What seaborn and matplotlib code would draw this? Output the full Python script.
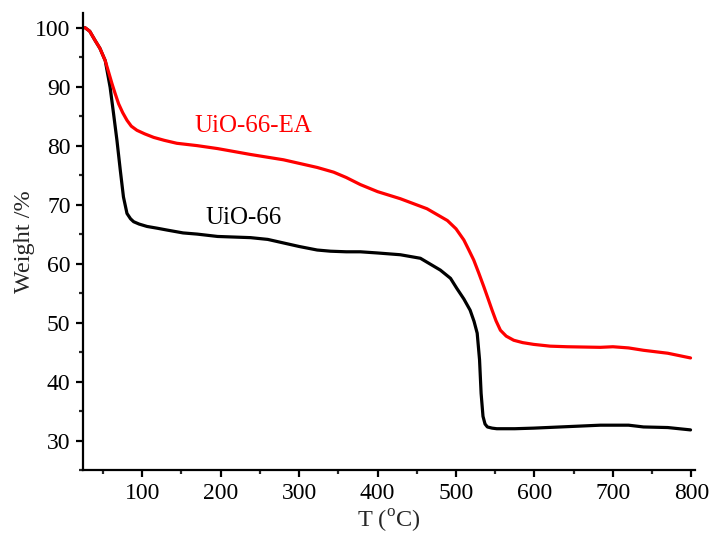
import numpy as np
import pandas as pd
import matplotlib
matplotlib.use("Agg")
import matplotlib.pyplot as plt
import seaborn as sns
from matplotlib.ticker import MultipleLocator

# UiO-66 (black)
t_uio = [27, 33, 40, 46, 52.8, 59, 63.4, 67.7, 72, 76, 80.5, 85, 89, 96, 106, 119, 131, 152, 170, 196, 238, 260,
         280, 300, 323, 340, 360, 378, 400, 429, 454.6, 480, 493, 501, 510, 518, 523, 527, 530, 532, 534.4,
         537, 540, 546, 552, 575, 599, 633, 684, 700, 720, 739, 770, 799]
w_uio = [100, 99.4, 97.8, 96.5, 94.4, 89.9, 85.4, 80.9, 75.8, 71.3, 68.5, 67.6, 67.1, 66.7, 66.3, 66.0, 65.7, 65.2,
         65.0, 64.6, 64.4, 64.1, 63.5, 62.9, 62.3, 62.1, 62.0, 62.0, 61.8, 61.5, 60.9, 58.9, 57.5, 55.8, 54.0,
         52.1, 50.2, 48.2, 43.7, 38.0, 34.1, 32.8, 32.3, 32.1, 32.0, 32.0, 32.1, 32.3, 32.6, 32.6, 32.6, 32.3,
         32.2, 31.8]

# UiO-66-EA (red)
t_ea = [27, 33, 40, 46, 52.8, 57, 61.4, 65.5, 69.8, 75, 80.5, 86, 93.2, 103, 114.5, 128, 144, 170, 196, 238,
        280, 323, 344, 360, 378, 400, 429, 463, 489, 500, 510, 516, 522.6, 529, 535.4, 541, 546, 551, 556.6,
        564, 573.6, 585, 599, 620, 641.6, 684, 700, 720, 739, 770, 799]
w_ea = [100, 99.4, 97.8, 96.5, 94.4, 92.5, 90.5, 88.8, 87.1, 85.6, 84.3, 83.3, 82.6, 82.0, 81.4, 80.9, 80.4, 80.0,
        79.5, 78.5, 77.6, 76.3, 75.5, 74.6, 73.4, 72.2, 71.0, 69.3, 67.3, 65.9, 64.0, 62.4, 60.6, 58.4, 56.1,
        54.0, 52.1, 50.3, 48.7, 47.7, 47.0, 46.6, 46.3, 46.0, 45.9, 45.8, 45.9, 45.7, 45.3, 44.8, 44.0]

names = ["UiO-66", "UiO-66-EA"]
colors = {"UiO-66": "#000000", "UiO-66-EA": "#ff0000"}

df = pd.concat([
    pd.DataFrame({"T": t_uio, "W": w_uio, "sample": names[0]}),
    pd.DataFrame({"T": t_ea, "W": w_ea, "sample": names[1]}),
], ignore_index=True)

sns.set_style("ticks")
plt.rcParams["font.family"] = ["Liberation Serif", "DejaVu Serif"]
plt.rcParams["mathtext.fontset"] = "custom"
plt.rcParams["mathtext.rm"] = "Liberation Serif"

fig = plt.figure(figsize=(7.16, 5.39), dpi=100)
ax = fig.add_axes([0.116, 0.128, 0.855, 0.848])

sns.lineplot(data=df, x="T", y="W", hue="sample", palette=colors, sort=False,
             estimator=None, legend=False, linewidth=2.3, ax=ax)
for ln in ax.lines:
    ln.set_solid_joinstyle("round")
    ln.set_solid_capstyle("round")

ax.set_xlim(24.5, 805)
ax.set_ylim(25, 102.5)
ax.xaxis.set_major_locator(MultipleLocator(100))
ax.xaxis.set_minor_locator(MultipleLocator(50))
ax.yaxis.set_major_locator(MultipleLocator(10))
ax.yaxis.set_minor_locator(MultipleLocator(5))

for s in ["top", "right"]:
    ax.spines[s].set_visible(False)
for s in ["left", "bottom"]:
    ax.spines[s].set_linewidth(1.6)
    ax.spines[s].set_color("black")

ax.tick_params(which="major", direction="out", length=5, width=1.6, labelsize=17, colors="black", pad=4)
ax.tick_params(which="minor", direction="out", length=3, width=1.6)

ax.set_xlabel("T ($^{\\rm o}$C)", fontsize=17.5, labelpad=3)
ax.set_ylabel("Weight /%", fontsize=17.5, labelpad=0)

ax.text(167, 83.3, "UiO-66-EA", color="#ff0000", fontsize=18, va="center", ha="left")
ax.text(180, 67.8, "UiO-66", color="#000000", fontsize=18, va="center", ha="left")

fig.savefig("out.png", dpi=100)
